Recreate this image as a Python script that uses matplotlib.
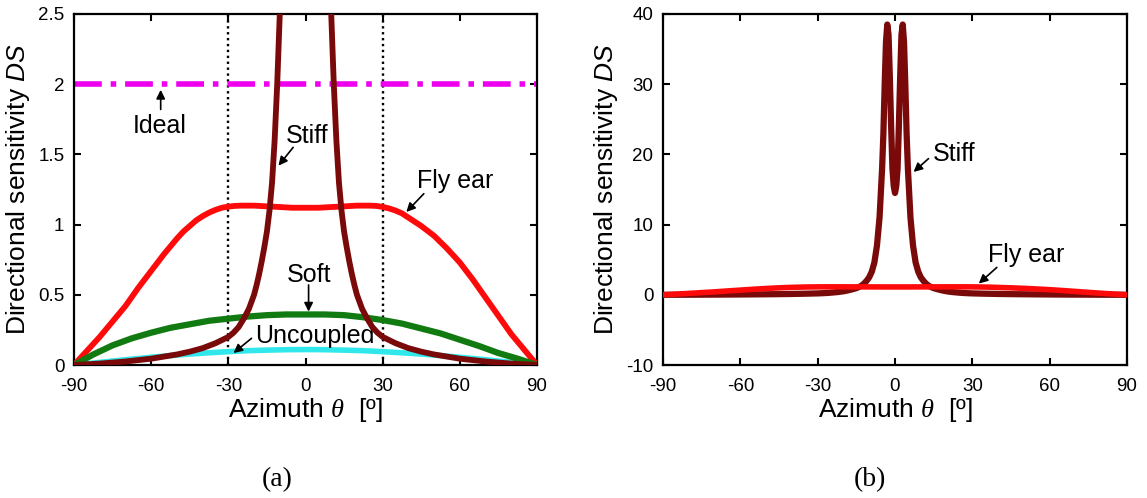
import matplotlib
matplotlib.use("Agg")
import matplotlib.pyplot as plt

plt.rcParams['font.family'] = ['Liberation Sans', 'DejaVu Sans']
plt.rcParams['mathtext.fontset'] = 'custom'
plt.rcParams['mathtext.it'] = 'Liberation Sans:italic'
plt.rcParams['mathtext.rm'] = 'Liberation Sans'
plt.rcParams['mathtext.bf'] = 'Liberation Serif:italic'

# ---------------- data ----------------
theta_fly = [-90, -85, -80, -75, -70, -65, -60, -55, -50, -47.5, -45, -42.5, -40, -37.5, -35, -32.5, -30, -27.5, -25,
             -20, -15, -10, -5, 0, 5, 10, 15, 20, 25, 27.5, 30, 32.5, 35, 37.5, 40, 42.5, 45, 47.5, 50,
             55, 60, 65, 70, 75, 80, 85, 90]
ds_fly = [0, 0.10, 0.20, 0.31, 0.42, 0.55, 0.67, 0.79, 0.90, 0.95, 0.99, 1.03, 1.06, 1.085, 1.105, 1.12, 1.128, 1.133, 1.135,
          1.135, 1.13, 1.125, 1.12, 1.12, 1.12, 1.125, 1.13, 1.135, 1.135, 1.133, 1.126, 1.115, 1.10, 1.08, 1.05, 1.02, 0.99, 0.955, 0.92,
          0.83, 0.73, 0.61, 0.48, 0.35, 0.22, 0.11, 0]

theta_soft = [-90, -82.5, -75, -67.5, -60, -52.5, -45, -37.5, -30, -22.5, -15, -7.5, 0,
              7.5, 15, 22.5, 30, 37.5, 45, 52.5, 60, 67.5, 75, 82.5, 90]
ds_soft = [0, 0.075, 0.14, 0.19, 0.23, 0.265, 0.29, 0.315, 0.33, 0.345, 0.355, 0.36, 0.36,
           0.36, 0.355, 0.34, 0.32, 0.295, 0.26, 0.225, 0.18, 0.135, 0.085, 0.045, 0]

theta_unc = [-90, -82.5, -75, -67.5, -60, -52.5, -45, -37.5, -30, -22.5, -15, -7.5, 0,
             7.5, 15, 22.5, 30, 37.5, 45, 52.5, 60, 67.5, 75, 82.5, 90]
ds_unc = [0, 0.014, 0.028, 0.042, 0.055, 0.067, 0.078, 0.087, 0.095, 0.102, 0.106, 0.109, 0.11,
          0.109, 0.106, 0.102, 0.095, 0.087, 0.078, 0.067, 0.055, 0.042, 0.028, 0.014, 0]

theta_stiff = [-90, -80, -70, -60, -55, -50, -45, -40, -35, -30, -28, -26, -24, -22, -20, -19, -18, -17, -16,
               -15, -14, -13, -12, -11, -10, -9, -8, -7, -6, -5, -4.5, -4, -3.5, -3, -2.5, -2, -1.5, -1, -0.5, 0,
               0.5, 1, 1.5, 2, 2.5, 3, 3.5, 4, 4.5, 5, 6, 7, 8, 9, 10, 11, 12, 13, 14, 15,
               16, 17, 18, 19, 20, 22, 24, 26, 28, 30, 35, 40, 45, 50, 55, 60, 70, 80, 90]
ds_stiff = [0, 0.01, 0.025, 0.045, 0.06, 0.075, 0.095, 0.12, 0.155, 0.20, 0.23, 0.27, 0.33, 0.40, 0.50, 0.57, 0.65, 0.74, 0.84,
            0.95, 1.10, 1.30, 1.60, 2.0, 2.5, 3.3, 4.6, 7.0, 11.0, 18.0, 23.0, 30.0, 36.0, 38.5, 37.0, 31.0, 24.0, 18.0, 15.5, 14.5,
            15.5, 18.0, 24.0, 31.0, 37.0, 38.5, 36.0, 30.0, 23.0, 18.0, 11.0, 7.0, 4.6, 3.3, 2.5, 2.0, 1.6, 1.3, 1.10, 0.95,
            0.84, 0.74, 0.65, 0.57, 0.50, 0.40, 0.33, 0.27, 0.23, 0.20, 0.155, 0.12, 0.095, 0.075, 0.06, 0.045, 0.025, 0.01, 0]

ideal_value = 2.0
guide_angles = [-30, 30]
xticks = [-90, -60, -30, 0, 30, 60, 90]
yticks_a = [0, 0.5, 1, 1.5, 2, 2.5]
yticks_b = [-10, 0, 10, 20, 30, 40]

RED = '#ff0a0a'
GREEN = '#117a11'
CYAN = '#30e8ec'
DARK = '#7a0a0a'
MAGENTA = '#ee00ee'

fig = plt.figure(figsize=(11.47, 4.98), dpi=100)
axa = fig.add_axes([74/1147, 1-365/498, 463/1147, 351/498])
axb = fig.add_axes([663/1147, 1-365/498, 464/1147, 351/498])

XL = 'Azimuth $\\mathbf{\\theta}$  [º]'
YL = 'Directional sensitivity $DS$'

for ax in (axa, axb):
    ax.set_xlim(-90, 90)
    ax.set_xticks(xticks)
    ax.set_xticklabels([str(t) for t in xticks])
    ax.tick_params(direction='in', length=5, width=1.5, labelsize=13.5, top=True, right=True, pad=9)
    ax.tick_params(axis='y', pad=7)
    for s in ax.spines.values():
        s.set_linewidth(1.6)
    ax.set_xlabel(XL, fontsize=19, labelpad=1)
    ax.set_ylabel(YL, fontsize=19, labelpad=4)

# ---- panel (a) ----
axa.set_ylim(0, 2.5)
axa.set_yticks(yticks_a)
axa.set_yticklabels(['0', '0.5', '1', '1.5', '2', '2.5'])
for g in guide_angles:
    axa.axvline(g, color='k', linestyle=(0, (1, 1.5)), lw=1.7, zorder=1)
axa.axhline(ideal_value, color=MAGENTA, lw=4, linestyle=(0, (5, 1.6, 1, 1.6)), zorder=2)
axa.plot(theta_fly, ds_fly, color=RED, lw=4.2, zorder=3, solid_joinstyle='round')
axa.plot(theta_unc, ds_unc, color=CYAN, lw=4, zorder=3, solid_joinstyle='round')
axa.plot(theta_soft, ds_soft, color=GREEN, lw=4.5, zorder=4, solid_joinstyle='round')
axa.plot(theta_stiff, ds_stiff, color=DARK, lw=4.2, zorder=5, solid_joinstyle='round')

ap = dict(arrowstyle='-|>', color='k', lw=1.2, mutation_scale=13, shrinkA=0, shrinkB=0)
axa.text(-56.8, 1.70, 'Ideal', fontsize=18, ha='center', va='center')
axa.annotate('', xy=(-56.3, 1.96), xytext=(-56.3, 1.82), arrowprops=ap)
axa.text(0.5, 1.63, 'Stiff', fontsize=18, ha='center', va='center')
axa.annotate('', xy=(-10.5, 1.42), xytext=(-4.8, 1.55), arrowprops=ap)
axa.text(58.2, 1.31, 'Fly ear', fontsize=18, ha='center', va='center')
axa.annotate('', xy=(39.2, 1.09), xytext=(46, 1.22), arrowprops=ap)
axa.text(1.2, 0.64, 'Soft', fontsize=18, ha='center', va='center')
axa.annotate('', xy=(1.2, 0.38), xytext=(1.2, 0.57), arrowprops=ap)
axa.text(3.8, 0.21, 'Uncoupled', fontsize=18, ha='center', va='center')
axa.annotate('', xy=(-28, 0.085), xytext=(-21, 0.19), arrowprops=ap)

# ---- panel (b) ----
axb.set_ylim(-10, 40)
axb.set_yticks(yticks_b)
axb.set_yticklabels([str(t) for t in yticks_b])
axb.plot(theta_stiff, ds_stiff, color=DARK, lw=4.5, zorder=3, solid_joinstyle='round')
axb.plot(theta_fly, ds_fly, color=RED, lw=4, zorder=4)
axb.text(14.8, 20, 'Stiff', fontsize=18, ha='left', va='center')
axb.annotate('', xy=(7.2, 17.5), xytext=(13, 19.4), arrowprops=ap)
axb.text(36, 5.7, 'Fly ear', fontsize=18, ha='left', va='center')
axb.annotate('', xy=(32.5, 1.6), xytext=(39.5, 3.9), arrowprops=ap)

fig.text(277/1147, 1-480/498, '(a)', fontsize=20, family='Liberation Serif', ha='center', va='center')
fig.text(870/1147, 1-480/498, '(b)', fontsize=20, family='Liberation Serif', ha='center', va='center')

fig.savefig('out.png', dpi=100)
